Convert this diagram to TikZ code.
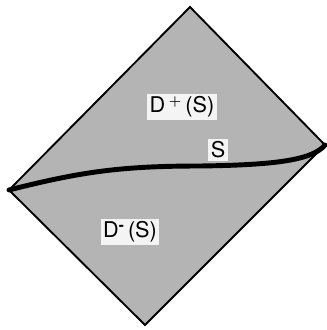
\documentclass[tikz,border=0pt]{standalone}
\usepackage{fontspec}
\setmainfont{TeX Gyre Heros}
\usepackage{amsmath,bm}
\usepackage{xcolor}
\usepackage{tikz}
\definecolor{cdom}{HTML}{B4B4B4}
\definecolor{clab}{HTML}{F4F4F4}

\begin{document}
\begin{tikzpicture}[x=0.03cm,y=-0.03cm,
    lab/.style={fill=clab,inner sep=2pt,font=\fontsize{18.5}{19}\selectfont}]
  \useasboundingbox (0,0) rectangle (326,330);
  \coordinate (top) at (190,7);
  \coordinate (right) at (325,145);
  \coordinate (bottom) at (145,325);
  \coordinate (left) at (9,190);
  \filldraw[fill=cdom,line width=1.6pt,line join=miter] (top) -- (right) -- (bottom) -- (left) -- cycle;
  \draw[line width=4.2pt,line cap=round] (left) .. controls (80,172) and (120,166) .. (200,166)
    .. controls (270,165) and (312,161) .. (right);
  \node[lab] (dplus) at (182,107) {D\,$^{\boldsymbol{+}}$\,(S)};
  \node[lab] (s) at (218,150) {S};
  \node[lab] (dminus) at (130,232) {D\textsuperscript{\bfseries -}\,(S)};
\end{tikzpicture}
\end{document}
